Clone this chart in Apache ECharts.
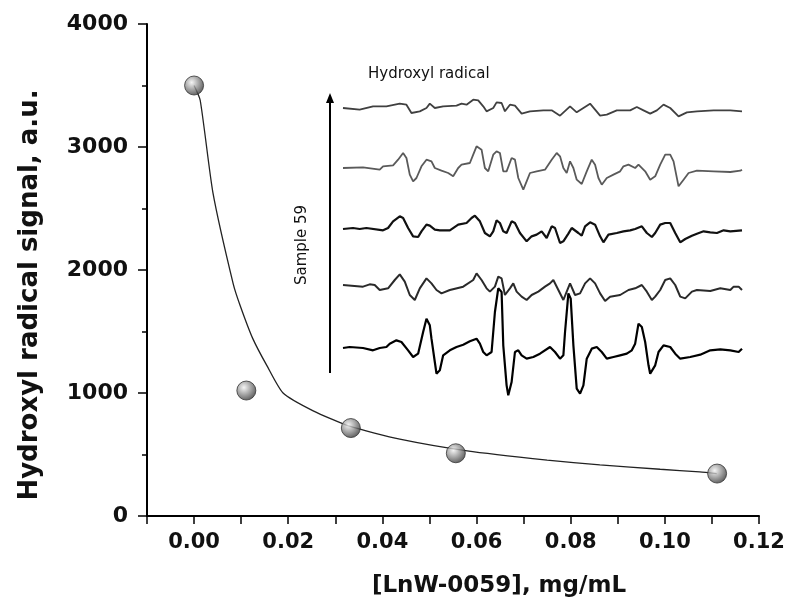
<!DOCTYPE html>
<html>
<head>
<meta charset="utf-8">
<script src="https://cdn.jsdelivr.net/npm/echarts@6/dist/echarts.min.js"></script>
<style>
html,body{margin:0;padding:0;background:#fff;}
#chart{width:800px;height:612px;}
</style>
</head>
<body>
<div id="chart"></div>
<script>
// ---- main data ----
const concentration = [0, 0.0111, 0.0333, 0.0556, 0.1111];
const signal = [3500, 1020, 715, 510, 345];
const fitX = [0, 0.0013, 0.004, 0.0083, 0.0098, 0.0125, 0.0155, 0.0189, 0.0253, 0.033, 0.0437, 0.058, 0.075, 0.0862, 0.099, 0.1074, 0.111];
const fitY = [3500, 3380, 2630, 1890, 1710, 1440, 1220, 1000, 855, 730, 625, 530, 455, 415, 380, 358, 345];
const xTicks = ['0.00','0.02','0.04','0.06','0.08','0.10','0.12'];
const yTicks = ['0','1000','2000','3000','4000'];

// ---- inset ESR spectra (field in arbitrary units, amplitude in arbitrary units) ----
const field1 = [40,90,130,170,210,230,245,270,290,300,315,340,380,395,410,430,445,460,470,490,500,515,525,540,555,575,600,640,665,690,720,740,760,780,795,810,830,860,900,920,940,960,980,1000,1020,1045,1070,1100,1150,1200,1235];
const amp1 = [0,-5,5,5,13,10,-15,-10,0,13,0,5,7,13,10,25,23,5,-10,0,17,15,-10,10,7,-17,-10,-7,-7,-23,5,-13,0,13,-5,-23,-20,-7,-7,3,-7,-17,-7,10,0,-25,-13,-10,-7,-7,-10];

const field2 = [40,100,150,160,190,205,220,230,240,250,260,275,290,305,315,335,355,370,385,395,420,430,440,455,465,475,490,500,510,520,530,545,555,565,580,590,600,620,645,665,680,690,700,710,720,730,740,755,770,785,795,805,815,830,850,870,880,895,915,925,945,960,975,990,1005,1020,1030,1045,1060,1075,1100,1150,1200,1230,1235];
const amp2 = [0,2,-5,5,8,25,45,30,-20,-40,-30,5,25,20,0,-8,-15,-25,0,10,15,40,65,55,0,-10,40,50,45,-10,-10,30,25,-30,-65,-40,-15,-10,-5,25,45,35,0,-15,20,0,-35,-48,-10,25,10,-30,-50,-30,-20,-10,5,10,0,10,-10,-35,-25,10,40,40,20,-55,-35,-15,-8,-10,-12,-8,-5];

const field3 = [40,70,90,110,160,175,190,210,220,235,250,265,275,290,300,315,330,360,385,410,425,435,450,465,480,490,500,510,520,530,545,555,570,590,605,620,635,650,665,675,690,700,715,725,745,755,765,780,795,810,820,835,860,880,900,915,935,950,965,975,990,1005,1020,1035,1050,1065,1085,1100,1120,1140,1160,1180,1200,1235];
const amp3 = [0,3,0,3,-4,3,23,38,33,3,-22,-24,-7,13,10,-2,-4,-4,13,18,33,40,23,-12,-22,-7,26,18,-7,-12,23,18,-12,-37,-22,-17,-7,-27,8,3,-42,-37,-14,3,-12,-20,8,20,13,-22,-40,-17,-12,-7,-4,0,8,-12,-24,-12,13,18,18,-12,-40,-30,-20,-14,-7,-10,-12,-4,-7,-4];

const field4 = [40,100,120,135,150,175,195,210,225,240,255,270,290,305,320,335,360,400,430,440,455,470,480,495,505,515,525,540,550,560,575,590,605,625,645,660,670,685,700,710,720,735,750,765,780,795,810,825,840,870,895,915,935,950,965,975,990,1005,1020,1035,1050,1065,1085,1100,1140,1170,1200,1210,1225,1235];
const amp4 = [0,-5,2,0,-15,-10,15,32,10,-30,-45,-10,20,5,-15,-25,-15,-5,15,35,15,-10,-20,-5,25,20,-30,-10,5,-20,-35,-45,-30,-20,-5,5,15,-15,-45,-20,5,-30,-25,5,20,5,-25,-48,-35,-30,-15,-10,0,-20,-45,-35,-15,15,20,0,-35,-40,-20,-15,-18,-10,-15,-5,-5,-15];

const field5 = [40,60,100,130,150,170,180,200,215,235,250,265,280,290,300,305,315,320,330,340,360,380,400,420,440,450,460,470,485,490,495,505,515,520,530,535,545,555,565,575,590,610,630,660,675,690,700,705,715,722,730,740,750,760,770,785,800,815,830,850,870,890,905,915,925,935,945,955,960,975,985,1000,1020,1035,1050,1080,1110,1140,1170,1200,1225,1235];
const amp5 = [0,3,0,-7,0,3,13,23,18,-7,-27,-17,48,88,68,28,-42,-77,-67,-22,-7,3,10,20,28,13,-12,-22,-12,48,108,179,168,8,-112,-142,-102,-12,-7,-22,-32,-27,-17,3,-12,-32,-22,48,164,148,8,-122,-137,-112,-32,-2,3,-12,-32,-27,-22,-17,-7,13,73,63,18,-52,-77,-52,-12,8,3,-17,-32,-27,-20,-7,-4,-7,-12,-2];

const traceFields = [field1, field2, field3, field4, field5];
const traceAmps = [amp1, amp2, amp3, amp4, amp5];
const traceBaselines = [108, 168, 229, 285, 348];   // pixel position of each trace's baseline
const traceColors = ['#404040', '#5a5a5a', '#111111', '#2a2a2a', '#000000'];
const traceWidths = [1.8, 1.8, 2.2, 2, 2.2];

const zip = (a, b) => a.map((v, i) => [v, b[i]]);

const chart = echarts.init(document.getElementById('chart'), null, {renderer: 'canvas'});

const grids = [{left: 147, right: 41, top: 24, bottom: 96}];
const xAxes = [{
  type: 'value', gridIndex: 0, min: -0.01, max: 0.12, interval: 0.01,
  axisLine: {show: true, onZero: false, lineStyle: {color: '#000', width: 2}},
  axisTick: {show: true, length: 8, lineStyle: {color: '#000', width: 1.5}},
  splitLine: {show: false},
  axisLabel: {
    margin: 16, color: '#111', fontFamily: 'DejaVu Sans', fontWeight: 'bold', fontSize: 21,
    formatter: v => { const s = v.toFixed(2); return xTicks.indexOf(s) >= 0 ? s : ''; }
  }
}];
const yAxes = [{
  type: 'value', gridIndex: 0, min: 0, max: 4000, interval: 1000,
  axisLine: {show: true, onZero: false, lineStyle: {color: '#000', width: 2}},
  axisTick: {show: true, length: 9, lineStyle: {color: '#000', width: 1.5}},
  minorTick: {show: true, splitNumber: 2, length: 5, lineStyle: {color: '#000', width: 1.5}},
  splitLine: {show: false},
  axisLabel: {
    margin: 19, color: '#111', fontFamily: 'DejaVu Sans', fontWeight: 'bold', fontSize: 22,
    formatter: v => { const s = String(v); return yTicks.indexOf(s) >= 0 ? s : ''; }
  }
}];

const series = [
  {
    type: 'line', xAxisIndex: 0, yAxisIndex: 0, data: zip(fitX, fitY),
    smooth: 0.2, showSymbol: false, symbol: 'none',
    lineStyle: {color: '#222', width: 1.3}, z: 2, silent: true
  },
  {
    type: 'scatter', xAxisIndex: 0, yAxisIndex: 0, data: zip(concentration, signal),
    symbol: 'circle', symbolSize: 19, z: 3,
    itemStyle: {
      color: new echarts.graphic.RadialGradient(0.38, 0.35, 0.7, [
        {offset: 0, color: '#f2f2f2'},
        {offset: 0.45, color: '#9a9a9a'},
        {offset: 1, color: '#2e2e2e'}
      ]),
      borderColor: '#333', borderWidth: 1
    }
  }
];

for (let i = 0; i < 5; i++) {
  grids.push({left: 343, width: 399, top: traceBaselines[i] - 60, height: 120});
  xAxes.push({type: 'value', gridIndex: i + 1, min: 40, max: 1235, show: false});
  yAxes.push({type: 'value', gridIndex: i + 1, min: -180, max: 180, show: false});
  series.push({
    type: 'line', xAxisIndex: i + 1, yAxisIndex: i + 1,
    data: zip(traceFields[i], traceAmps[i]),
    showSymbol: false, symbol: 'none', silent: true,
    lineStyle: {color: traceColors[i], width: traceWidths[i]}, z: 4
  });
}

chart.setOption({
  animation: false,
  backgroundColor: '#fff',
  grid: grids,
  xAxis: xAxes,
  yAxis: yAxes,
  series: series,
  graphic: [
    {
      type: 'text', position: [30, 295], rotation: Math.PI / 2,
      style: {text: 'Hydroxyl radical signal, a.u.', fill: '#111', font: 'bold 26px "DejaVu Sans"', textAlign: 'center', textVerticalAlign: 'middle'}
    },
    {
      type: 'text', position: [499, 586],
      style: {text: '[LnW-0059], mg/mL', fill: '#111', font: 'bold 23px "DejaVu Sans"', textAlign: 'center', textVerticalAlign: 'middle'}
    },
    {
      type: 'text', position: [368, 74],
      style: {text: 'Hydroxyl radical', fill: '#111', font: '15px "DejaVu Sans"', textAlign: 'left', textVerticalAlign: 'middle'}
    },
    {
      type: 'text', position: [302, 245], rotation: Math.PI / 2,
      style: {text: 'Sample 59', fill: '#111', font: '15px "DejaVu Sans"', textAlign: 'center', textVerticalAlign: 'middle'}
    },
    {
      type: 'line', shape: {x1: 330, y1: 373, x2: 330, y2: 100},
      style: {stroke: '#000', lineWidth: 2}
    },
    {
      type: 'polygon', shape: {points: [[330, 93], [326, 103], [334, 103]]},
      style: {fill: '#000'}
    }
  ]
});
</script>
</body>
</html>
